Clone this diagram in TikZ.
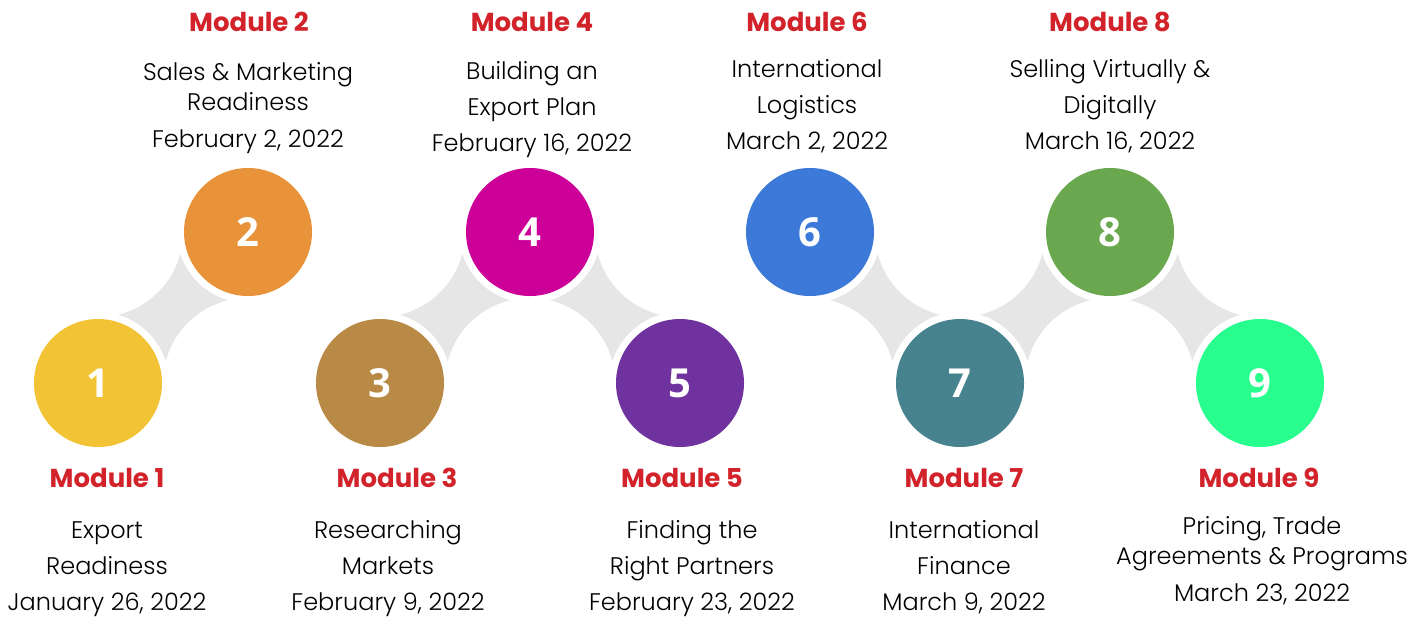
\documentclass[tikz,border=0pt]{standalone}
\usepackage{fontspec}
\IfFontExistsTF{Poppins Light}
  {\setmainfont{Poppins Light}[BoldFont=Poppins Bold]}
  {\setmainfont{Poppins}}
\newfontfamily\numfont{Open Sans}
\usetikzlibrary{backgrounds}

\definecolor{titlered}{HTML}{D2232A}
\definecolor{linkgray}{HTML}{E6E6E6}
\definecolor{cOne}{HTML}{F2C335}
\definecolor{cTwo}{HTML}{E8923A}
\definecolor{cThree}{HTML}{B98A45}
\definecolor{cFour}{HTML}{CC0099}
\definecolor{cFive}{HTML}{6F329E}
\definecolor{cSix}{HTML}{3C79D9}
\definecolor{cSeven}{HTML}{46838F}
\definecolor{cEight}{HTML}{6AA84F}
\definecolor{cNine}{HTML}{27FE8E}

\tikzset{
  modcircle/.style={circle,fill=#1,minimum size=64pt,inner sep=0pt,
    text=white,font=\numfont\bfseries\fontsize{20}{24}\selectfont},
  modtitle/.style={anchor=base,inner sep=0pt,text=titlered,
    font=\bfseries\fontsize{13}{16}\selectfont},
  moddesc/.style={anchor=base,inner sep=0pt,align=center,
    font=\fontsize{12}{18}\selectfont}
}

% gray four-pointed joint between two neighbouring circles
\newcommand\joint[2]{%
  \begin{scope}
    \clip (#1.center) rectangle (#2.center);
    \fill[linkgray] (#1.center) rectangle (#2.center);
    \fill[white] (#1.center) circle (35.5pt) (#2.center) circle (35.5pt)
      (#1.center |- #2.center) circle (42.5pt)
      (#2.center |- #1.center) circle (42.5pt);
  \end{scope}}

\begin{document}
\begin{tikzpicture}[x=0.5pt,y=-0.5pt]
  \useasboundingbox (0,0) rectangle (1427,618);

  % circles
  \node[modcircle=cOne]   (m1) at (98,383)   {1};
  \node[modcircle=cTwo]   (m2) at (248,232)  {2};
  \node[modcircle=cThree] (m3) at (380,383)  {3};
  \node[modcircle=cFour]  (m4) at (530,232)  {4};
  \node[modcircle=cFive]  (m5) at (680,383)  {5};
  \node[modcircle=cSix]   (m6) at (810,232)  {6};
  \node[modcircle=cSeven] (m7) at (960,383)  {7};
  \node[modcircle=cEight] (m8) at (1110,232) {8};
  \node[modcircle=cNine]  (m9) at (1260,383) {9};

  % joints
  \begin{scope}[on background layer]
    \joint{m1}{m2}
    \joint{m3}{m4}
    \joint{m4}{m5}
    \joint{m6}{m7}
    \joint{m7}{m8}
    \joint{m8}{m9}
  \end{scope}

  % titles
  \node[modtitle] (t1) at (107,487)  {Module 1};
  \node[modtitle] (t2) at (249,31)   {Module 2};
  \node[modtitle] (t3) at (397,487)  {Module 3};
  \node[modtitle] (t4) at (532,31)   {Module 4};
  \node[modtitle] (t5) at (682,487)  {Module 5};
  \node[modtitle] (t6) at (807,31)   {Module 6};
  \node[modtitle] (t7) at (964,487)  {Module 7};
  \node[modtitle] (t8) at (1110,31)  {Module 8};
  \node[modtitle] (t9) at (1259,487) {Module 9};

  % descriptions (anchored at the date line)
  \node[moddesc] (d1) at (107,610)  {Export\\Readiness\\January 26, 2022};
  \node[moddesc] (d2) at (248,147)  {Sales \& Marketing\\[-3pt]Readiness\\[0.5pt]February 2, 2022};
  \node[moddesc] (d3) at (388,610)  {Researching\\Markets\\February 9, 2022};
  \node[moddesc] (d4) at (532,151)  {Building an\\Export Plan\\February 16, 2022};
  \node[moddesc] (d5) at (692,610)  {Finding the\\Right Partners\\February 23, 2022};
  \node[moddesc] (d6) at (807,149)  {International\\Logistics\\March 2, 2022};
  \node[moddesc] (d7) at (964,610)  {International\\Finance\\March 9, 2022};
  \node[moddesc] (d8) at (1110,149) {Selling Virtually \&\\Digitally\\March 16, 2022};
  \node[moddesc] (d9) at (1262,601) {Pricing, Trade\\[-3pt]Agreements \& Programs\\[0.5pt]March 23, 2022};
\end{tikzpicture}
\end{document}
